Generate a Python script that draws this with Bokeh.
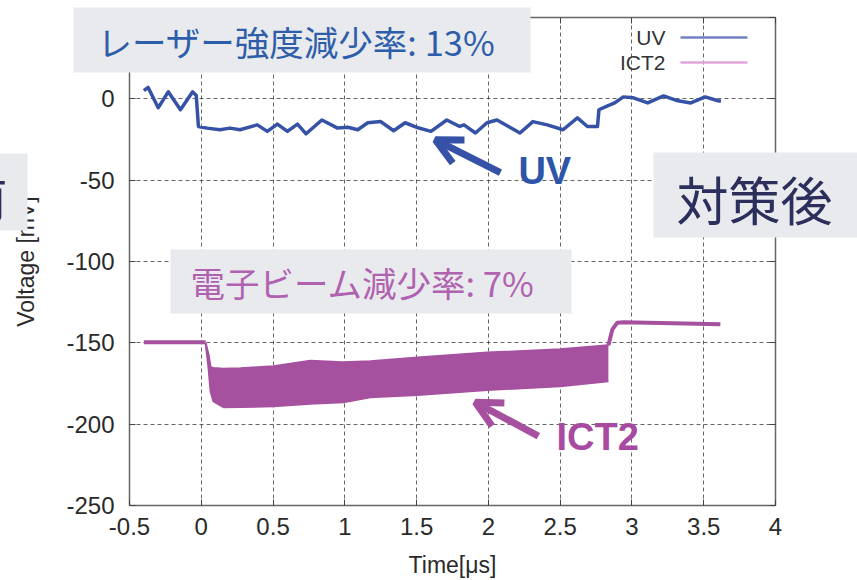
from bokeh.plotting import figure
from bokeh.models import (Range1d, FixedTicker, LinearAxis, Label, Arrow, OpenHead,
                          CustomJSTickFormatter)
from bokeh.core.properties import value
from bokeh.embed import file_html
from bokeh.resources import INLINE

# UV laser monitor trace: time [us], voltage [mV]
uv_time = [-0.40, -0.37, -0.30, -0.23, -0.145, -0.06, -0.035, -0.02, 0.04, 0.13,
           0.20, 0.27, 0.39, 0.46, 0.53, 0.60, 0.67, 0.73, 0.84, 0.95,
           1.02, 1.09, 1.16, 1.25, 1.34, 1.42, 1.51, 1.60, 1.71, 1.80,
           1.83, 1.91, 1.99, 2.06, 2.14, 2.22, 2.31, 2.41, 2.52, 2.62,
           2.69, 2.76, 2.77, 2.83, 2.88, 2.94, 3.01, 3.11, 3.22, 3.32,
           3.41, 3.51, 3.60, 3.62]
uv_mv = [5.0, 7.0, -5.5, 4.3, -6.7, 4.3, 2.0, -17.0, -18.0, -19.0,
         -18.0, -19.0, -16.0, -20.0, -15.5, -20.0, -15.5, -21.5, -13.0, -18.0,
         -17.5, -19.0, -14.7, -14.0, -19.6, -14.7, -17.8, -20.0, -13.0, -17.0,
         -16.0, -21.0, -14.7, -13.0, -17.0, -21.0, -14.0, -16.0, -19.0, -11.7,
         -17.0, -17.0, -6.7, -4.3, -2.5, 1.2, 0.6, -2.5, 1.8, -1.2,
         -2.5, 1.2, -1.2, -1.5]

# ICT2 beam current monitor: baseline before the pulse
ict2_pre_time = [-0.40, 0.03]
ict2_pre_mv = [-149.6, -149.6]
# envelope of the bunch train during the pulse
ict2_band_time = [0.03, 0.05, 0.065, 0.085, 0.155, 0.273, 0.503, 0.760, 0.990,
                  1.178, 1.506, 1.993, 2.501, 2.836]
ict2_band_upper = [-150.0, -157.0, -165.0, -165.5, -166.0, -165.6, -164.4, -161.0,
                   -162.0, -161.3, -159.0, -156.0, -154.0, -151.5]
ict2_band_lower = [-150.0, -165.0, -180.0, -186.0, -189.6, -189.5, -189.0, -187.5,
                   -186.5, -183.4, -182.0, -179.0, -176.7, -173.6]
# after the pulse
ict2_post_time = [2.836, 2.864, 2.898, 2.94, 3.20, 3.616]
ict2_post_mv = [-151.5, -141.7, -137.6, -137.4, -137.8, -138.6]

x_ticks = [-0.5, 0, 0.5, 1, 1.5, 2, 2.5, 3, 3.5, 4]
x_tick_labels = ["-0.5", "0", "0.5", "1", "1.5", "2", "2.5", "3", "3.5", "4"]
y_ticks = [-250, -200, -150, -100, -50, 0, 50]
y_tick_labels = ["-250", "-200", "-150", "-100", "-50", "0", "50"]

UV_COLOR = "#3552a6"
ICT_COLOR = "#a6519f"
BOX_FILL = "#e8eaed"
AX_FONT = "Liberation Sans"
JP_FONT = "Noto Sans CJK JP"

X0, X1, Y0, Y1 = -0.5, 4.0, -250.0, 50.0
W, H = 857, 580
BL, BR, BT, BB = 129, 82, 17, 75

p = figure(width=W, height=H, x_range=Range1d(X0, X1), y_range=Range1d(Y0, Y1),
           output_backend="svg", toolbar_location=None,
           min_border_left=BL, min_border_right=BR, min_border_top=BT,
           min_border_bottom=BB, background_fill_color="white",
           border_fill_color="white")

# page pixel -> data coordinate, for placing the caption panels
def px_x(px):
    return X0 + (px - BL) * (X1 - X0) / (W - BL - BR)

def px_y(py):
    return Y1 - (py - BT) * (Y1 - Y0) / (H - BT - BB)

p.outline_line_color = "#666666"
p.outline_line_width = 1.5

# axes
p.xaxis.ticker = FixedTicker(ticks=x_ticks)
p.yaxis.ticker = FixedTicker(ticks=y_ticks)
p.xaxis.major_label_overrides = dict(zip(x_ticks, x_tick_labels))
p.yaxis.major_label_overrides = dict(zip(y_ticks, y_tick_labels))
for ax in (p.xaxis, p.yaxis):
    ax.axis_line_color = None
    ax.major_tick_in = 6
    ax.major_tick_out = 0
    ax.major_tick_line_color = "#444444"
    ax.minor_tick_in = 0
    ax.minor_tick_out = 0
    ax.major_label_text_font = AX_FONT
    ax.major_label_text_font_size = "24px"
    ax.major_label_text_color = "#2a2a2a"
    ax.axis_label_text_font = AX_FONT
    ax.axis_label_text_font_size = "23px"
    ax.axis_label_text_font_style = "normal"
    ax.axis_label_text_color = "#2a2a2a"
p.xaxis.axis_label = "Time[μs]"
p.yaxis.axis_label = "Voltage [mV]"
p.xaxis.major_label_standoff = 12
p.xaxis.axis_label_standoff = 14
p.yaxis.major_label_standoff = 15
p.yaxis.axis_label_standoff = 24

# mirrored inward ticks on the top and right edges
for loc, ticks in (("above", x_ticks), ("right", y_ticks)):
    mirror = LinearAxis(ticker=FixedTicker(ticks=ticks), axis_line_color=None,
                        major_tick_in=6, major_tick_out=0, minor_tick_in=0,
                        minor_tick_out=0, major_tick_line_color="#444444",
                        formatter=CustomJSTickFormatter(code="return ''"),
                        major_label_standoff=0)
    p.add_layout(mirror, loc)

# dashed grid
p.xgrid.ticker = FixedTicker(ticks=x_ticks)
p.ygrid.ticker = FixedTicker(ticks=y_ticks)
for g in (p.xgrid, p.ygrid):
    g.grid_line_color = "#333333"
    g.grid_line_alpha = 0.75
    g.grid_line_dash = "4 3"
    g.grid_line_width = 1

# traces
p.varea(x=ict2_band_time, y1=ict2_band_lower, y2=ict2_band_upper,
        fill_color=ICT_COLOR, fill_alpha=1.0)
p.line(ict2_band_time, ict2_band_upper, line_color=ICT_COLOR, line_width=2)
p.line(ict2_band_time, ict2_band_lower, line_color=ICT_COLOR, line_width=2)
p.line(ict2_pre_time, ict2_pre_mv, line_color=ICT_COLOR, line_width=4)
p.line(ict2_post_time, ict2_post_mv, line_color=ICT_COLOR, line_width=4)
p.line(uv_time, uv_mv, line_color=UV_COLOR, line_width=3.5, line_join="round")

# key: names on the left, line samples on the right
for txt, y, col in (("UV", 37, "#7282c0"), ("ICT2", 62, "#e2a6da")):
    p.add_layout(Label(x=665, y=y, x_units="canvas", y_units="canvas", text=txt,
                       text_align="right", text_baseline="middle",
                       text_font=AX_FONT, text_font_size="21px", text_color="#333333"))
    p.add_layout(Arrow(start=None, end=None, x_start=680, x_end=747, y_start=y, y_end=y,
                       start_units="canvas", end_units="canvas",
                       line_color=col, line_width=2.5))

# pointers
for (xs, ys, xe, ye, col) in ((2.084, -45.4, 1.631, -25.2, UV_COLOR),
                              (2.348, -207.4, 1.909, -186.5, ICT_COLOR)):
    p.add_layout(Arrow(end=OpenHead(line_color=col, line_width=7, size=26),
                       x_start=xs, y_start=ys, x_end=xe, y_end=ye,
                       line_color=col, line_width=7))
p.add_layout(Label(x=2.209, y=-44.2, text="UV", text_font=AX_FONT,
                   text_font_style="bold", text_font_size="38px", text_color="#2f55a8",
                   text_baseline="middle", text_align="left"))
p.add_layout(Label(x=2.474, y=-207.7, text="ICT2", text_font=AX_FONT,
                   text_font_style="bold", text_font_size="38px", text_color="#a84aa2",
                   text_baseline="middle", text_align="left"))

# caption panels (page pixels: left, right, top, bottom), drawn above the axes
panels = [(73, 530, 7, 72), (170, 571, 249, 313), (653, 870, 152, 237), (-10, 27, 153, 230)]
p.quad(left=[px_x(l) for l, r, t, b in panels],
       right=[px_x(r) for l, r, t, b in panels],
       top=[px_y(t) for l, r, t, b in panels],
       bottom=[px_y(b) for l, r, t, b in panels],
       fill_color=BOX_FILL, line_alpha=0, level="overlay")

captions = [("レーザー強度減少率: 13%", 97, 40, "left", "34.5px", "#2e5daa"),
            ("電子ビーム減少率: 7%", 190, 281, "left", "34.5px", "#b062b0"),
            ("対策後", 676, 198, "left", "52px", "#2c2e5c"),
            ("対策前", 7, 194, "right", "52px", "#2c2e5c")]
for (txt, x, y, al, fs, col) in captions:
    p.text(x=[px_x(x)], y=[px_y(y)], text=[txt], text_align=al,
           text_baseline="middle", text_font=value(JP_FONT),
           text_font_size=value(fs), text_color=col, level="overlay")

open("out.html", "w").write(file_html(p, INLINE))
